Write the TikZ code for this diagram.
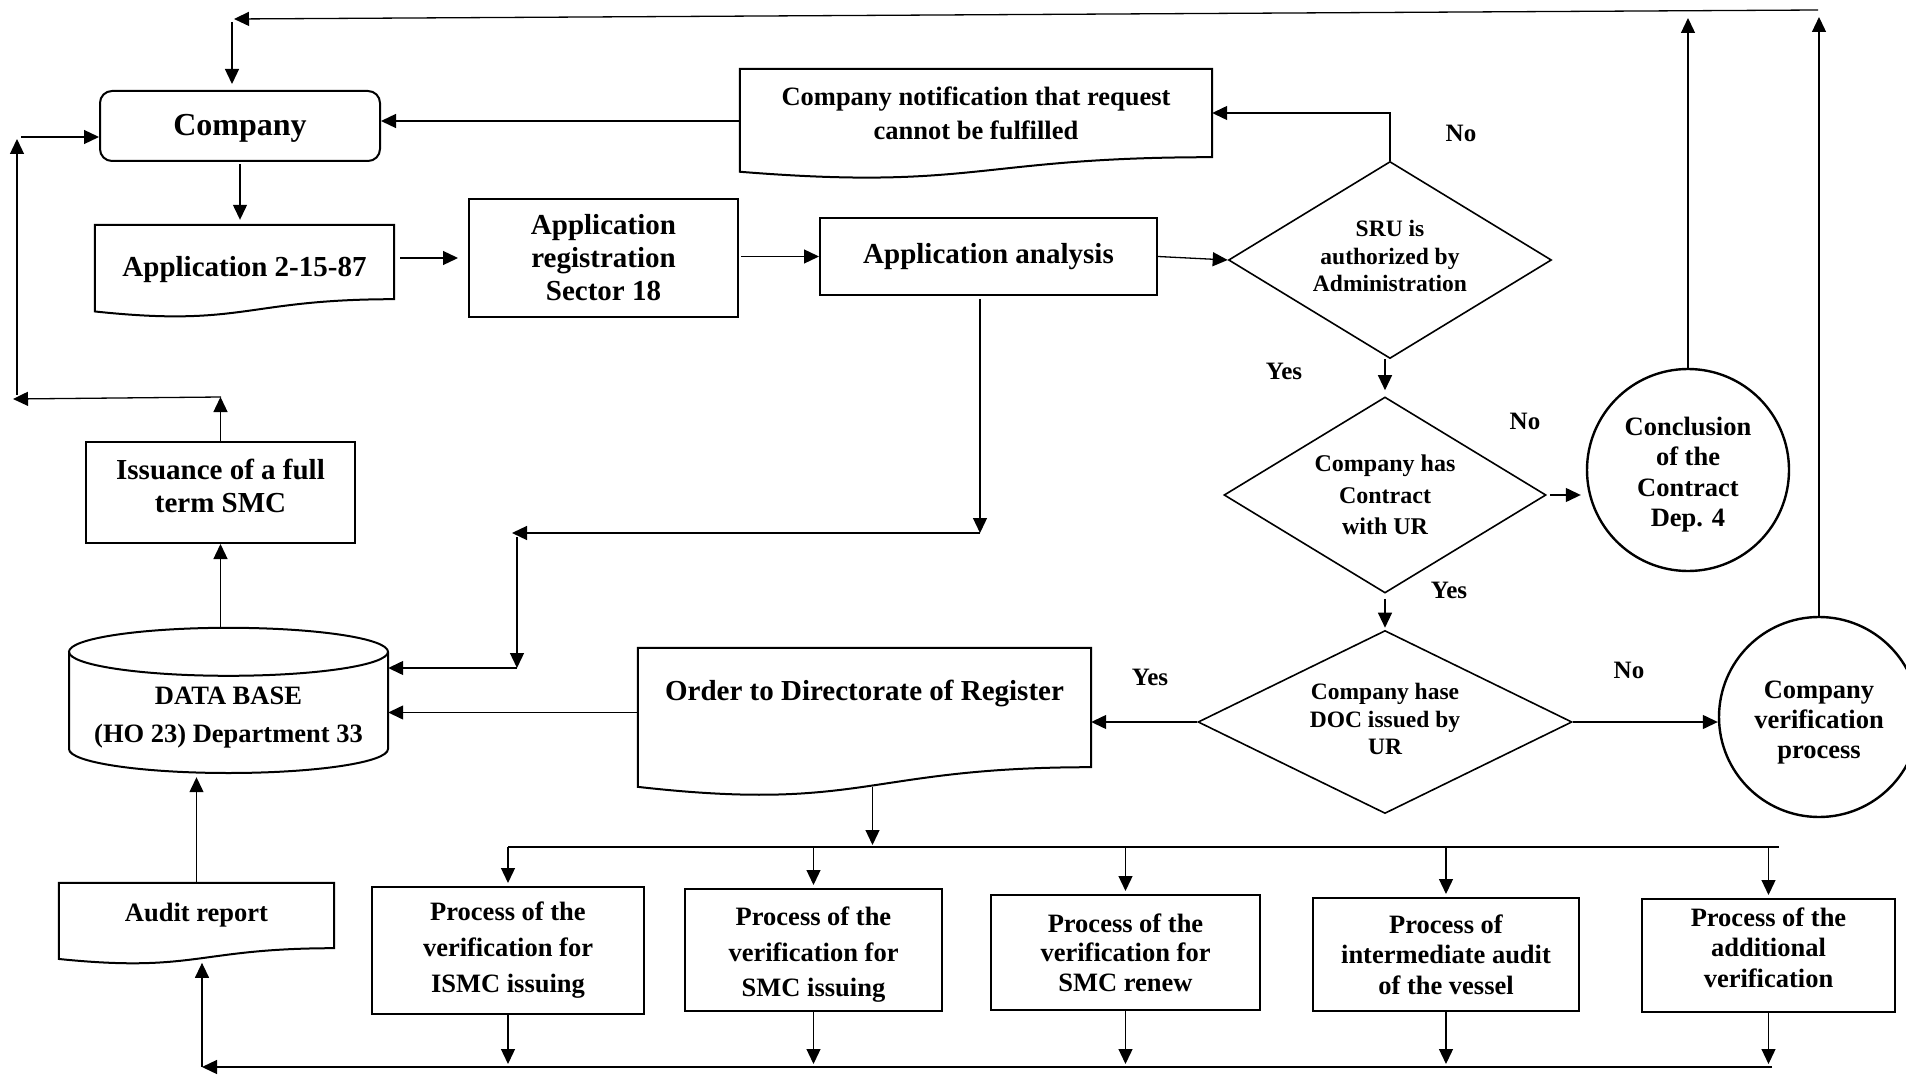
\documentclass[tikz,border=0pt]{standalone}
\usepackage{fontspec}
\setmainfont{Liberation Serif}
\usetikzlibrary{arrows.meta,shapes.geometric,calc}
\newcommand\fsz[2]{\fontsize{#1}{#2}\selectfont\bfseries}
\newcommand\docshape[1]{\draw[shapeline] (#1.north west) -- (#1.north east) -- (#1.south east)
  .. controls (#1.south) and ($(#1.north)!1.380!(#1.south)$) .. ($(#1.north west)!1.1646!(#1.south west)$) -- cycle;}
\tikzset{
  bx/.style={draw, line width=2pt, inner sep=0pt, align=center},
  docn/.style={inner sep=0pt, align=center},
  dia/.style={draw, diamond, line width=1.6pt, inner sep=0pt, align=center},
  circ/.style={draw, circle, line width=2.4pt, inner sep=0pt, align=center},
  conn/.style={line width=1.3pt, -{Triangle[length=15pt,width=14pt]}},
  plain/.style={line width=1.3pt},
  lbl/.style={inner sep=0pt, font=\fsz{25}{30}},
  shapeline/.style={line width=2pt}
}
\begin{document}
\begin{tikzpicture}[x=1pt,y=-1pt]
\useasboundingbox (0,0) rectangle (1906,1075);
\fill[white] (0,0) rectangle (1906,1075);
\clip (0,0) rectangle (1906,1075);

% ---- nodes ----
\node[bx, rounded corners=12pt, minimum width=280pt, minimum height=70pt, text height=26pt, font=\fsz{32}{36}] (comp) at (240,126) {Company};
\node[docn, minimum width=299pt, minimum height=74pt, text height=36pt, font=\fsz{29}{33}] (app) at (244.5,262) {Application 2-15-87};
\node[bx, minimum width=269pt, minimum height=118pt, font=\fsz{29}{33}] (reg) at (603.5,258) {Application\\registration\\Sector 18};
\node[bx, minimum width=337pt, minimum height=77pt, font=\fsz{29}{33}] (ana) at (988.5,256.5) {Application analysis};
\node[docn, minimum width=472pt, minimum height=88pt, font=\fsz{26.5}{34}] (notif) at (976,113) {Company notification that request\\cannot be fulfilled};
\node[dia, aspect=1.64, minimum width=323pt, minimum height=197pt, text depth=8pt, font=\fsz{23.5}{27.5}] (sru) at (1390,260) {SRU is\\authorized by\\Administration};
\node[dia, aspect=1.64, minimum width=322pt, minimum height=196pt, font=\fsz{24}{31.5}] (con) at (1385,495) {Company has\\Contract\\with UR};
\node[dia, aspect=2.04, minimum width=374pt, minimum height=183pt, text depth=6pt, font=\fsz{23.5}{27.5}] (doc) at (1385,722) {Company hase\\DOC issued by\\UR};
\node[circ, minimum size=202pt, text height=119.5pt, font=\fsz{26.5}{30.5}] (conc) at (1688,470) {Conclusion\\of the\\Contract\\Dep. 4};
\node[circ, minimum size=200pt, text height=88pt, font=\fsz{26.5}{30}] (ver) at (1819,717) {Company\\verification\\process};
\node[docn, minimum width=453pt, minimum height=119pt, text depth=34pt, font=\fsz{29}{33}] (order) at (864.5,707.5) {Order to Directorate of Register};
\node[docn, minimum width=319pt, minimum height=121pt, text height=66pt, font=\fsz{26.5}{38}] (db) at (228.5,712.5) {DATA BASE\\(HO 23) Department 33};
\node[bx, minimum width=269pt, minimum height=101pt, text depth=14pt, font=\fsz{29}{33}] (iss) at (220.5,492.5) {Issuance of a full\\term SMC};
\node[docn, minimum width=275pt, minimum height=65pt, font=\fsz{26.5}{30}] (audit) at (196.5,915.5) {Audit report};
\node[bx, minimum width=272pt, minimum height=127pt, font=\fsz{26.5}{36}] (p1) at (508,950.5) {Process of the\\verification for\\ISMC issuing};
\node[bx, minimum width=257pt, minimum height=122pt, text height=99pt, font=\fsz{26.5}{35.5}] (p2) at (813.5,950) {Process of the\\verification for\\SMC issuing};
\node[bx, minimum width=269pt, minimum height=115pt, font=\fsz{26.5}{29.5}] (p3) at (1125.5,952.5) {Process of the\\verification for\\SMC renew};
\node[bx, minimum width=266pt, minimum height=113pt, font=\fsz{26.5}{30.5}] (p4) at (1446,954.5) {Process of\\intermediate audit\\of the vessel};
\node[bx, minimum width=253pt, minimum height=113pt, text depth=16pt, font=\fsz{26.5}{30.5}] (p5) at (1768.5,955.5) {Process of the\\additional\\verification};

% labels
\node[lbl] (l1) at (1461,133) {No};
\node[lbl] (l2) at (1284,371) {Yes};
\node[lbl] (l3) at (1525,421) {No};
\node[lbl] (l4) at (1449,590) {Yes};
\node[lbl] (l5) at (1150,677) {Yes};
\node[lbl] (l6) at (1629,670) {No};

% ---- shapes ----
\docshape{app}
\docshape{notif}
\docshape{order}
\docshape{audit}
\draw[shapeline] (69,652) -- (69,749) .. controls (69,762.25) and (140.4,773) .. (228.5,773)
  .. controls (316.6,773) and (388,762.25) .. (388,749) -- (388,652);
\draw[shapeline] (db.north) ellipse [x radius=159.5, y radius=24];

% ---- coordinates ----
\coordinate (tr) at (1818,10);
\coordinate (tl) at (234,19);
\coordinate (tl2) at (232,22);
\coordinate (concUp) at (1688,18);
\coordinate (verUp) at (1819,17);
\coordinate (j1) at (980,533);
\coordinate (j2) at (512,533);
\coordinate (j3) at (517,537);
\coordinate (j4) at (517,668);
\coordinate (busL) at (508,847);
\coordinate (busR) at (1779,847);
\coordinate (botR) at (1772,1067);
\coordinate (botL) at (202,1067);
\coordinate (ordBot) at ($(order.north)!1.163!(order.south)$);
\coordinate (auditBot) at ($(audit.north)!1.163!(audit.south)$);
\coordinate (dbtop) at ([yshift=24pt]db.north);
\coordinate (lb) at (221,397);
\coordinate (lbL) at (13,399);
\coordinate (lu1) at (17,395);
\coordinate (lu2) at (17,139);
\coordinate (lc) at (21,137);

% ---- connectors ----
\draw[conn] (tr) -- (tl);
\draw[conn, shorten >=6pt] (tl2) -- (tl2 |- comp.north);
\draw[conn, shorten <=2pt, shorten >=5pt] (comp.south) -- (comp.south |- app.north);
\draw[conn, shorten <=6pt, shorten >=10pt] (reg.west -| app.east) -- (reg.west);
\draw[conn, shorten <=2pt] (ana.west -| reg.east) -- (ana.west);
\draw[conn] (ana.east) -- (sru.west);
\draw[conn] (sru.north) |- (notif.east);
\draw[conn] ([yshift=5pt]comp.east -| notif.west) -- ([yshift=5pt]comp.east);
\draw[conn, shorten >=6pt] (sru.south -| con.north) -- (con.north);
\draw[conn, shorten <=3pt, shorten >=5pt] (con.east) -- (con.east -| conc.west);
\draw[conn] (conc.north) -- (concUp);
\draw[conn] (ver.north) -- (verUp);
\draw[conn, shorten <=5pt, shorten >=2pt] (con.south) -- (doc.north);
\draw[conn] (doc.west) -- (doc.west -| order.east);
\draw[conn] (doc.east) -- (doc.east -| ver.west);
\draw[conn] (db.east -| order.west) -- (db.east);
\draw[conn, shorten <=3pt] (ana.south -| j1) -- (j1);
\draw[conn] (j1) -- (j2);
\draw[conn] (j3) -- (j4);
\draw[conn] (j4) -- (db.east |- j4);
\draw[plain] (busL) -- (busR);
\draw[conn, shorten >=2pt] ([xshift=8pt]ordBot) -- ([xshift=8pt]ordBot |- busL);
\draw[conn, shorten >=3pt] (busL -| p1.north) -- (p1.north);
\draw[conn, shorten >=3pt] (busL -| p2.north) -- (p2.north);
\draw[conn, shorten >=3pt] (busL -| p3.north) -- (p3.north);
\draw[conn, shorten >=3pt] (busL -| p4.north) -- (p4.north);
\draw[conn, shorten >=3pt] (busL -| p5.north) -- (p5.north);
\draw[conn, shorten >=3pt] (p1.south) -- (p1.south |- botR);
\draw[conn, shorten >=3pt] (p2.south) -- (p2.south |- botR);
\draw[conn, shorten >=3pt] (p3.south) -- (p3.south |- botR);
\draw[conn, shorten >=3pt] (p4.south) -- (p4.south |- botR);
\draw[conn, shorten >=3pt] (p5.south) -- (p5.south |- botR);
\draw[conn] (botR) -- (botL);
\draw[conn, shorten >=4pt] (botL) -- (botL |- auditBot);
\draw[conn, shorten >=4pt] (audit.north) -- (audit.north |- db.south);
\draw[conn] (dbtop -| iss.south) -- (iss.south);
\draw[conn] (iss.north) -- (iss.north |- lb);
\draw[conn] (lb) -- (lbL);
\draw[conn] (lu1) -- (lu2);
\draw[conn] (lc) -- (lc -| comp.west);
\end{tikzpicture}
\end{document}
